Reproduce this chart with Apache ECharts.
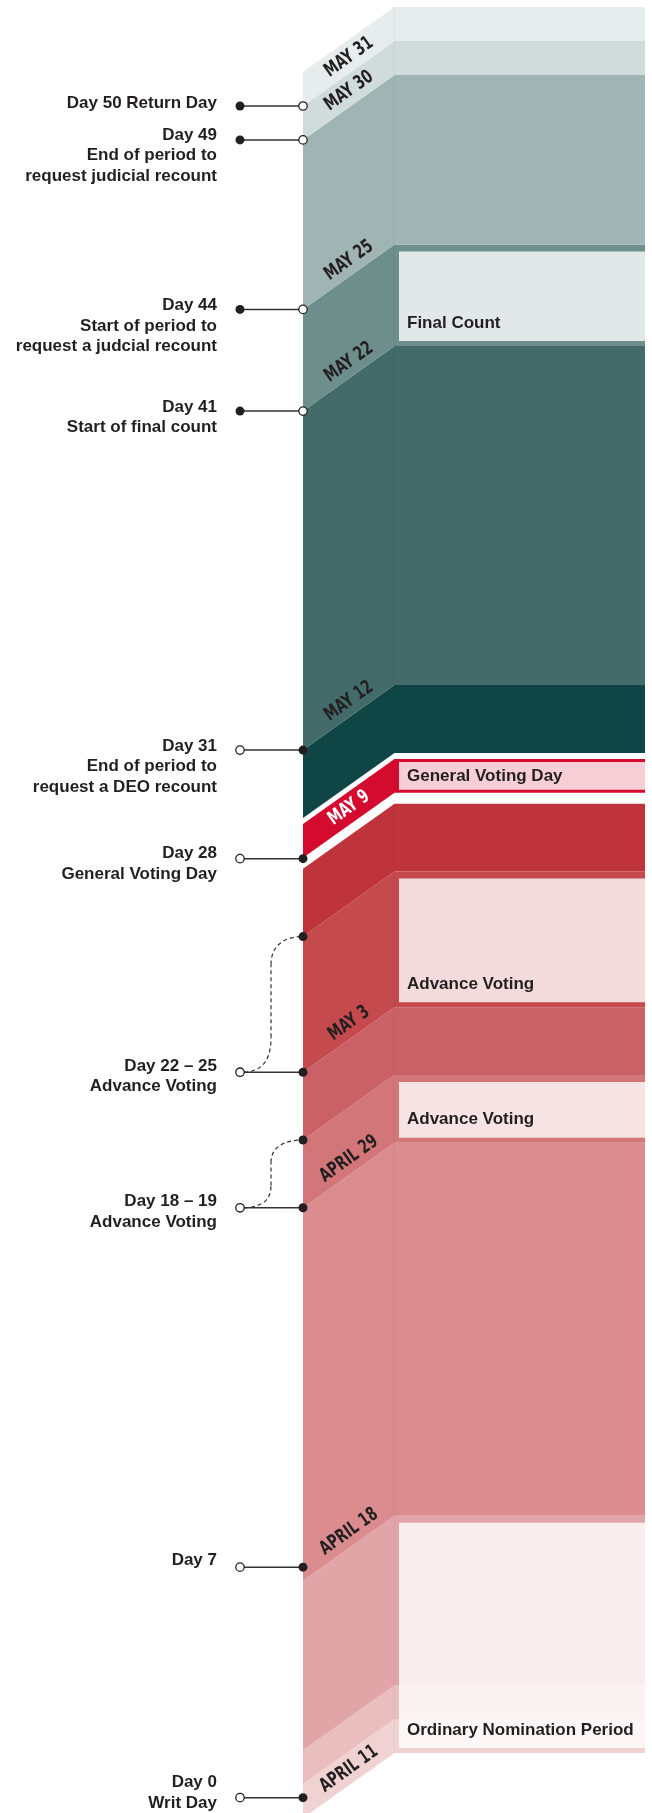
<!DOCTYPE html>
<html><head><meta charset="utf-8">
<style>html,body{margin:0;padding:0;background:#fff}#c{width:652px;height:1813px}</style>
<script src="https://cdn.jsdelivr.net/npm/echarts@6/dist/echarts.min.js"></script>
</head><body><div id="c"></div>
<script>
// ---------------- data ----------------
var bandStart = [0, 1, 2, 7, 18, 20, 22, 26, 28, 29, 31, 41, 44, 49, 50];
var bandEnd   = [1, 2, 7, 18, 20, 22, 26, 28, 29, 31, 41, 44, 49, 50, 51];
var bandDate  = ['APRIL 11', '', '', 'APRIL 18', 'APRIL 29', '', 'MAY 3', '', 'MAY 9', '', 'MAY 12', 'MAY 22', 'MAY 25', 'MAY 30', 'MAY 31'];
var periodStart = [0, 18, 22, 28, 41];
var periodEnd   = [7, 20, 26, 29, 44];
var periodName  = ['Ordinary Nomination Period', 'Advance Voting', 'Advance Voting', 'General Voting Day', 'Final Count'];
var votingDay = 28;
var markerDay   = [50, 49, 44, 41, 31, 28.3, 22, 18, 7.4, 0.6];
var markerUpper = [null, null, null, null, null, null, 26, 20, null, null];
var markerText  = [
  ['Day 50 Return Day'],
  ['Day 49', 'End of period to', 'request judicial recount'],
  ['Day 44', 'Start of period to', 'request a judcial recount'],
  ['Day 41', 'Start of final count'],
  ['Day 31', 'End of period to', 'request a DEO recount'],
  ['Day 28', 'General Voting Day'],
  ['Day 22 \u2013 25', 'Advance Voting'],
  ['Day 18 \u2013 19', 'Advance Voting'],
  ['Day 7'],
  ['Day 0', 'Writ Day']
];

// ---------------- style ----------------
var bandColor = ['#F1D2D3', '#EABDBF', '#E1A5A8', '#DA8C8F', '#D3767A', '#CA6166', '#C44A4E', '#BF343A',
                 '#D50A2F', '#104546', '#436B69', '#6E8E8C', '#A0B5B3', '#D0DCDB', '#E6EDEC'];
var markerFilledLeft = [true, true, true, true, false, false, false, false, false, false];
var labelShift = [-3, -5, -4, -4, -4, -5, -6, -6, -7, -15];
var DEPTH = 91, SKEW = 65, GAP = 17, VOTE_TOP = 6, VOTE_BOTTOM = 11;
var INK = '#231F20';
var FONT = '"Liberation Sans", Arial, Helvetica, sans-serif';
var DATE_FONT = '"DejaVu Sans", Verdana, sans-serif';

function yR(api, d) {
  var y = api.coord([0, d])[1];
  if (d > votingDay + 0.5) y -= GAP;
  return y;
}
function xs(api) {
  var x0 = api.coord([0, 0])[0], x1 = api.coord([1, 0])[0];
  return {x0: x0, x1: x1, xd: x0 + DEPTH};
}
function bandEdges(api, s, e) {
  var yb = yR(api, s), yt = yR(api, e);
  if (s === votingDay) { yb -= VOTE_BOTTOM; yt += VOTE_TOP; }
  return {yb: yb, yt: yt};
}

function renderBand(params, api) {
  var i = params.dataIndex, X = xs(api);
  var E = bandEdges(api, bandStart[i], bandEnd[i]);
  var c = bandColor[i];
  return {type: 'group', children: [
    {type: 'polygon', shape: {points: [[X.x0, E.yt + SKEW], [X.xd + 0.5, E.yt], [X.xd + 0.5, E.yb], [X.x0, E.yb + SKEW]]}, style: {fill: c}},
    {type: 'rect', shape: {x: X.xd, y: E.yt, width: X.x1 - X.xd, height: E.yb - E.yt}, style: {fill: c}},
    {type: 'line', shape: {x1: X.xd, y1: E.yt, x2: X.xd, y2: E.yb}, style: {stroke: 'rgba(0,0,0,0.05)', lineWidth: 1}}
  ]};
}

function renderDate(params, api) {
  var i = params.dataIndex;
  if (!bandDate[i]) return null;
  var X = xs(api);
  var E = bandEdges(api, bandStart[i], bandEnd[i]);
  var lx = X.x0 + 46;
  var edgeY = E.yb + SKEW * (X.xd - lx) / DEPTH;
  var ly = bandStart[i] === votingDay ? edgeY - (E.yb - E.yt) / 2 : edgeY - 16;
  return {type: 'text', x: lx, y: ly, rotation: Math.atan2(SKEW, DEPTH), scaleX: 0.7,
    style: {text: bandDate[i], x: 0, y: 0, fill: bandStart[i] === votingDay ? '#fff' : INK,
      fontSize: 19, fontWeight: 'bold', fontFamily: DATE_FONT, align: 'center', verticalAlign: 'middle'}};
}

function renderPeriod(params, api) {
  var i = params.dataIndex, X = xs(api);
  var s = periodStart[i], e = periodEnd[i];
  var yb = yR(api, s), yt = yR(api, e);
  if (s === votingDay) { yb -= VOTE_BOTTOM + 3; yt += VOTE_TOP + 3; }
  else { yb -= 5; yt += 7; }
  var bx = X.xd + 5;
  return {type: 'group', children: [
    {type: 'rect', shape: {x: bx, y: yt, width: X.x1 - bx, height: yb - yt}, style: {fill: 'rgba(255,255,255,0.8)'}},
    {type: 'text', style: {text: periodName[i], x: bx + 8, y: yb - Math.min(18, (yb - yt) / 2),
      fill: INK, fontSize: 17, fontWeight: 'bold', fontFamily: FONT, align: 'left', verticalAlign: 'middle'}}
  ]};
}

function renderMarker(params, api) {
  var i = params.dataIndex, X = xs(api);
  var x0 = X.x0, xc = x0 - 63;
  var y = yR(api, markerDay[i]) + SKEW;
  var ch = [];
  ch.push({type: 'line', shape: {x1: xc, y1: y, x2: x0, y2: y}, style: {stroke: '#333', lineWidth: 1.5}});
  if (markerUpper[i] != null) {
    var yu = yR(api, markerUpper[i]) + SKEW;
    var xm = x0 - 32, span = y - yu;
    var c1 = Math.min(35, span * 0.33), c2 = Math.min(28, span * 0.33);
    var ds = {stroke: '#333', lineWidth: 1.2, lineDash: [4, 3], fill: null};
    ch.push({type: 'bezierCurve', shape: {x1: xc + 4, y1: y, cpx1: xc + 24, cpy1: y - 1, cpx2: xm, cpy2: y - c1 * 0.4, x2: xm, y2: y - c1}, style: ds});
    ch.push({type: 'line', shape: {x1: xm, y1: y - c1, x2: xm, y2: yu + c2}, style: ds});
    ch.push({type: 'bezierCurve', shape: {x1: xm, y1: yu + c2, cpx1: xm, cpy1: yu + c2 * 0.35, cpx2: xm + 12, cpy2: yu, x2: x0, y2: yu}, style: ds});
    ch.push({type: 'circle', shape: {cx: x0, cy: yu, r: 4.5}, style: {fill: INK}});
  }
  var fx = markerFilledLeft[i] ? xc : x0, ox = markerFilledLeft[i] ? x0 : xc;
  ch.push({type: 'circle', shape: {cx: ox, cy: y, r: 4.2}, style: {fill: '#fff', stroke: INK, lineWidth: 1.3}});
  ch.push({type: 'circle', shape: {cx: fx, cy: y, r: 4.5}, style: {fill: INK}});
  markerText[i].forEach(function (t, k) {
    ch.push({type: 'text', style: {text: t, x: x0 - 86, y: y + labelShift[i] + k * 20.5, fill: INK,
      fontSize: 17, fontWeight: 'bold', fontFamily: FONT, align: 'right', verticalAlign: 'middle'}});
  });
  return {type: 'group', children: ch};
}

var chart = echarts.init(document.getElementById('c'), null, {renderer: 'canvas'});
chart.setOption({
  animation: false,
  backgroundColor: '#fff',
  grid: {left: 303, right: 7, top: 24.1, bottom: 60, containLabel: false},
  xAxis: {type: 'value', min: 0, max: 1, show: false},
  yAxis: {type: 'value', min: 0, max: 51, show: false},
  series: [
    {type: 'custom', clip: false, renderItem: renderBand,
     data: bandStart.map(function (s, i) { return [0, s, bandEnd[i]]; }), encode: {x: 0, y: [1, 2]}},
    {type: 'custom', clip: false, renderItem: renderPeriod,
     data: periodStart.map(function (s, i) { return [0, s, periodEnd[i]]; }), encode: {x: 0, y: [1, 2]}},
    {type: 'custom', clip: false, renderItem: renderDate,
     data: bandStart.map(function (s, i) { return [0, s, bandEnd[i]]; }), encode: {x: 0, y: [1, 2]}},
    {type: 'custom', clip: false, renderItem: renderMarker,
     data: markerDay.map(function (d) { return [0, d]; }), encode: {x: 0, y: 1}}
  ]
});
</script></body></html>
